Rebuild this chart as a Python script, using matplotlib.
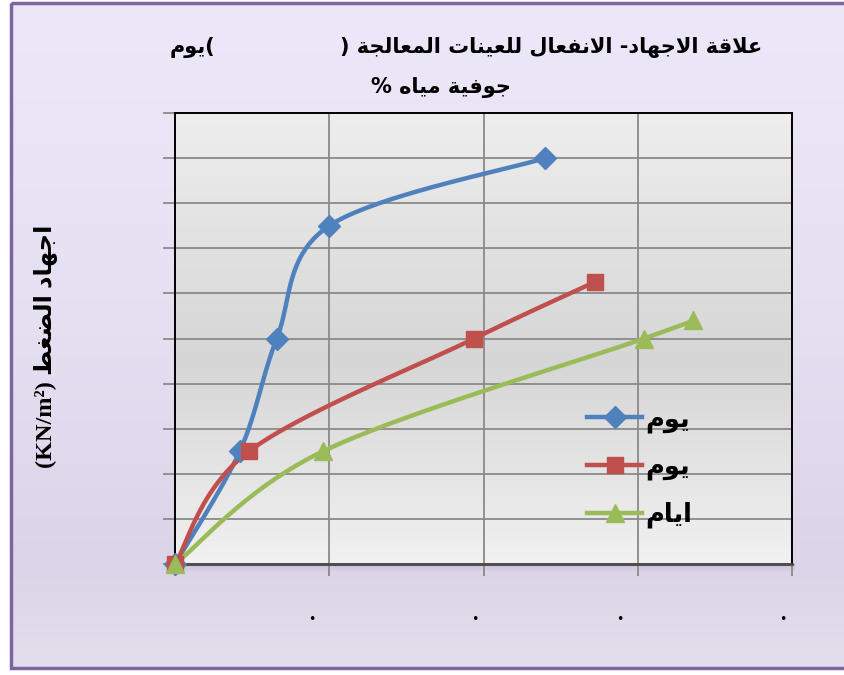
import numpy as np
import matplotlib.pyplot as plt
import matplotlib.transforms as mtransforms
from matplotlib.colors import LinearSegmentedColormap
from matplotlib.lines import Line2D
from matplotlib.patches import Rectangle

# strain (%) / stress (kN/m2) readings for the three curing periods
x_day1 = [0.0, 0.21, 0.33, 0.50, 1.20]
y_day1 = [0, 250, 500, 750, 900]
x_day7 = [0.0, 0.24, 0.97, 1.36]
y_day7 = [0, 250, 500, 625]
x_days = [0.0, 0.48, 1.52, 1.68]
y_days = [0, 250, 500, 540]

labels = ["يوم", "يوم", "ايام"]
x_ticks = [0.0, 0.5, 1.0, 1.5, 2.0]
y_ticks = list(range(0, 1001, 100))

BLUE = "#4f81bd"
RED = "#c0504d"
GREEN = "#9bbb59"

# ---- tiny Arabic shaper (presentation forms, visual order) -------------
FORMS = {
    "ا": ("\uFE8D", "\uFE8E", None, None),
    "د": ("\uFEA9", "\uFEAA", None, None),
    "ة": ("\uFE93", "\uFE94", None, None),
    "و": ("\uFEED", "\uFEEE", None, None),
    "لا": ("\uFEFB", "\uFEFC", None, None),
    "ل": ("\uFEDD", "\uFEDE", "\uFEDF", "\uFEE0"),
    "ع": ("\uFEC9", "\uFECA", "\uFECB", "\uFECC"),
    "ق": ("\uFED5", "\uFED6", "\uFED7", "\uFED8"),
    "ج": ("\uFE9D", "\uFE9E", "\uFE9F", "\uFEA0"),
    "ه": ("\uFEE9", "\uFEEA", "\uFEEB", "\uFEEC"),
    "ن": ("\uFEE5", "\uFEE6", "\uFEE7", "\uFEE8"),
    "ف": ("\uFED1", "\uFED2", "\uFED3", "\uFED4"),
    "ي": ("\uFEF1", "\uFEF2", "\uFEF3", "\uFEF4"),
    "ت": ("\uFE95", "\uFE96", "\uFE97", "\uFE98"),
    "م": ("\uFEE1", "\uFEE2", "\uFEE3", "\uFEE4"),
    "ض": ("\uFEBD", "\uFEBE", "\uFEBF", "\uFEC0"),
    "غ": ("\uFECD", "\uFECE", "\uFECF", "\uFED0"),
    "ط": ("\uFEC1", "\uFEC2", "\uFEC3", "\uFEC4"),
}


def ar(text):
    toks, i = [], 0
    while i < len(text):
        if text[i] == "ل" and text[i + 1:i + 2] == "ا":
            toks.append("لا")
            i += 2
        else:
            toks.append(text[i])
            i += 1
    out = []
    for k, t in enumerate(toks):
        if t not in FORMS:
            out.append(t)
            continue
        prev = toks[k - 1] if k > 0 else None
        nxt = toks[k + 1] if k + 1 < len(toks) else None
        jp = prev in FORMS and FORMS[prev][2] is not None
        jn = nxt in FORMS and FORMS[t][2] is not None
        iso, fin, ini, med = FORMS[t]
        out.append(med if jp and jn else fin if jp else ini if jn else iso)
    return "".join(reversed(out))


def smooth(x, y, n=40):
    # Catmull-Rom style bezier through the points (spreadsheet "smoothed line")
    p = np.column_stack([x, y]).astype(float)
    pts = [p[0]]
    t = np.linspace(0, 1, n)[1:, None]
    for i in range(len(p) - 1):
        p0 = p[i - 1] if i > 0 else p[i]
        p1, p2 = p[i], p[i + 1]
        p3 = p[i + 2] if i + 2 < len(p) else p[i + 1]
        c1 = p1 + (p2 - p0) / 6
        c2 = p2 - (p3 - p1) / 6
        seg = (1 - t) ** 3 * p1 + 3 * (1 - t) ** 2 * t * c1 + 3 * (1 - t) * t ** 2 * c2 + t ** 3 * p2
        pts.extend(seg)
    pts = np.array(pts)
    return pts[:, 0], pts[:, 1]


W, H = 844, 675
fig = plt.figure(figsize=(W / 100, H / 100), dpi=100)
fig.patch.set_facecolor("white")

# ---- chart-area background with purple frame ---------------------------
bg = fig.add_axes([0, 0, 1, 1], zorder=-10)
bg.set_xlim(0, W)
bg.set_ylim(H, 0)
bg.axis("off")
lav = LinearSegmentedColormap.from_list(
    "lav", [(0, "#ede8f9"), (0.5, "#e5dff2"), (0.85, "#dcd4e8"), (1, "#e4deec")])
grad = np.linspace(0, 1, 256)[:, None]
bg.imshow(grad, cmap=lav, extent=(11, W + 30, 668, 3), aspect="auto", zorder=0)
bg.add_patch(Rectangle((11, 3), W + 30, 665, fill=False, ec="#8064a2", lw=2.5, zorder=2))
# soft drop shadow under the plot area
for k, a in enumerate([0.22, 0.14, 0.08, 0.04]):
    bg.add_patch(Rectangle((178, 564 + k * 1.6), 617, 1.8, fc="#505050", ec="none",
                           alpha=a, zorder=1))

# ---- plot area ----------------------------------------------------------
ax = fig.add_axes([175 / W, 1 - 564 / H, 617 / W, 451 / H])
gray = LinearSegmentedColormap.from_list(
    "plotbg", [(0, "#eeeeee"), (0.55, "#d6d6d6"), (1, "#f1f1f1")])
ax.imshow(np.linspace(0, 1, 256)[:, None], cmap=gray, extent=(0, 1, 0, 1),
          transform=ax.transAxes, aspect="auto", zorder=0)

ax.set_xlim(x_ticks[0], x_ticks[-1])
ax.set_ylim(y_ticks[0], y_ticks[-1])
ax.set_xticks(x_ticks)
ax.set_yticks(y_ticks)
ax.set_xticklabels([])
ax.set_yticklabels([])
ax.grid(True, color="#8a8a8a", lw=1.3, zorder=1)
ax.tick_params(direction="out", length=8.5, width=1.3, color="#8a8a8a")
for side in ["left", "top", "right"]:
    ax.spines[side].set_color("black")
    ax.spines[side].set_linewidth(1.4)
ax.spines["bottom"].set_color("#4a4a4a")
ax.spines["bottom"].set_linewidth(2)

series = [(x_day1, y_day1, BLUE, "D", 11),
          (x_day7, y_day7, RED, "s", 12),
          (x_days, y_days, GREEN, "^", 13)]
handles = []
for (xs, ys, col, mk, ms), lab in zip(series, labels):
    sx, sy = smooth(xs, ys)
    ax.plot(sx, sy, color=col, lw=3.2, solid_capstyle="round", zorder=3, clip_on=False)
    ax.plot(xs, ys, ls="none", marker=mk, ms=ms, color=col, zorder=4, clip_on=False)
    handles.append(Line2D([], [], color=col, lw=3.2, marker=mk, ms=ms))

ax.legend(handles, [ar(l) for l in labels], loc="upper left",
          bbox_to_anchor=(0.668, 0.350), frameon=False, borderpad=0,
          borderaxespad=0, handlelength=2.14, handletextpad=0.12,
          labelspacing=0.83,
          prop={"family": "DejaVu Sans", "weight": "bold", "size": 18.5})

# x tick labels are just dots, sitting a little left of each gridline
dot_dx = [-17, -9, -18, -9]
for xv, dx in zip(x_ticks[1:], dot_dx):
    off = mtransforms.ScaledTranslation(dx / 100, 0, fig.dpi_scale_trans)
    tr = mtransforms.blended_transform_factory(ax.transData, ax.transAxes) + off
    ax.text(xv, -0.122, "•", transform=tr, ha="center", va="center",
            fontsize=9, color="black")

# ---- titles -------------------------------------------------------------
tkw = dict(family="DejaVu Sans", weight="bold", fontsize=15, color="black", va="center")
fig.text(762 / W, 1 - 48 / H, ") " + ar("علاقة الاجهاد- الانفعال للعينات المعالجة"),
         ha="right", **tkw)
fig.text(170 / W, 1 - 48 / H, ar("يوم") + "(", ha="left", **tkw)
fig.text(441 / W, 1 - 88 / H, "% " + ar("مياه") + " " + ar("جوفية"), ha="center", **tkw)

fig.text(45 / W, 1 - 346 / H, "(KN/m²) " + ar("اجهاد الضغط"), rotation=90,
         ha="center", va="center", fontsize=17.5, weight="bold",
         family=["Liberation Serif", "DejaVu Sans"])

fig.savefig("out.png", dpi=100)
